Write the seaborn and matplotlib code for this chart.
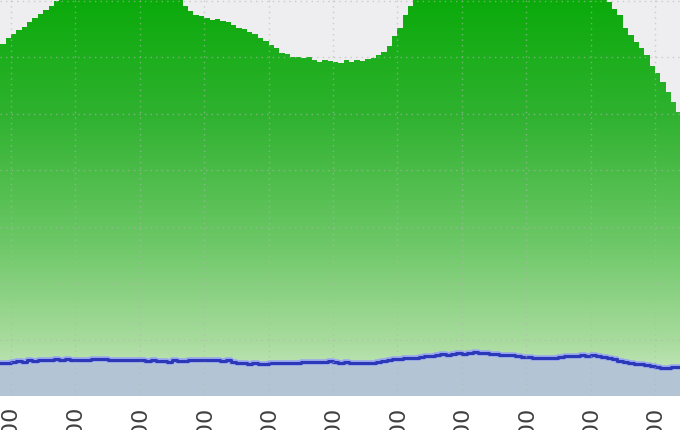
import numpy as np
import matplotlib
matplotlib.use("Agg")
import matplotlib.pyplot as plt
from matplotlib.colors import LinearSegmentedColormap
import seaborn as sns

# 5-minute samples starting 07:50
start_hour = 7 + 50 / 60
tick_hours = list(range(8, 19))
tick_labels = ["%02d:00" % h for h in tick_hours]

# total traffic (green area)
traffic_in = [
    62.3, 63.4, 64.1, 64.8, 65.3, 66.2, 66.9, 67.6, 68.3, 69.0,
    69.9, 70.8, 71.3, 71.6, 72.0, 72.3, 72.1, 72.6, 72.4, 72.8,
    72.5, 72.9, 72.6, 72.4, 72.7, 72.3, 72.1, 72.2, 71.8, 71.7,
    71.3, 71.0, 70.6, 70.2, 69.0, 68.1, 67.4, 67.3, 66.9, 66.5,
    66.7, 66.4, 66.2, 65.7, 65.1, 65.0, 64.4, 64.1, 63.4, 62.8,
    62.1, 61.6, 60.7, 60.5, 60.0, 60.0, 59.8, 60.0, 59.5, 59.1,
    59.5, 59.3, 59.1, 58.9, 59.5, 59.1, 59.5, 59.3, 59.6, 59.8,
    60.4, 60.9, 61.9, 63.7, 65.1, 67.4, 69.0, 70.3, 71.0, 71.8,
    72.4, 73.0, 73.3, 73.8, 74.0, 74.4, 74.3, 74.8, 74.6, 75.0,
    74.7, 75.1, 74.9, 75.2, 74.8, 75.0, 74.6, 74.7, 74.3, 74.4,
    74.0, 73.8, 73.5, 73.2, 72.8, 72.6, 72.1, 71.8, 71.5, 71.2,
    71.0, 70.6, 70.2, 69.7, 68.5, 67.4, 65.1, 63.9, 62.7, 61.6,
    60.4, 58.4, 57.2, 55.6, 53.8, 52.0, 50.3, 48.5,
]

# outgoing traffic (blue line)
traffic_out = [
    5.8, 5.9, 6.0, 6.2, 6.1, 6.3, 6.2, 6.4, 6.3, 6.4,
    6.5, 6.4, 6.5, 6.3, 6.4, 6.4, 6.3, 6.5, 6.6, 6.5,
    6.4, 6.3, 6.4, 6.4, 6.3, 6.4, 6.3, 6.2, 6.3, 6.2,
    6.2, 6.1, 6.3, 6.2, 6.2, 6.3, 6.4, 6.3, 6.4, 6.3,
    6.3, 6.2, 6.3, 6.1, 5.9, 5.8, 5.7, 5.8, 5.7, 5.7,
    5.8, 5.8, 5.9, 5.9, 5.8, 5.9, 6.0, 6.0, 6.1, 6.0,
    6.1, 6.2, 6.0, 5.9, 6.0, 5.9, 5.8, 5.9, 5.8, 5.9,
    6.0, 6.2, 6.3, 6.5, 6.6, 6.7, 6.8, 6.8, 6.9, 7.1,
    7.0, 7.2, 7.4, 7.3, 7.4, 7.6, 7.5, 7.6, 7.8, 7.7,
    7.6, 7.5, 7.4, 7.2, 7.3, 7.2, 7.1, 6.9, 6.9, 6.8,
    6.8, 6.7, 6.7, 6.8, 6.9, 7.0, 7.1, 7.0, 7.2, 7.1,
    7.3, 7.1, 6.9, 6.7, 6.5, 6.2, 6.0, 5.9, 5.7, 5.6,
    5.4, 5.3, 5.1, 5.0, 5.0, 5.1, 5.2, 5.3,
]

times = start_hour + np.arange(len(traffic_in)) * 5 / 60

sns.set_style("white")
fig = plt.figure(figsize=(6.8, 4.3), dpi=100)
ax = fig.add_axes([0, 34 / 430, 1, 396 / 430])
ax.set_facecolor("#eeeef0")

x_lo, x_hi = 8 - 11 / 64.4, 8 + 669 / 64.4
y_hi = 70.1

# green area with vertical gradient
poly = ax.fill_between(times, 0, traffic_in, step="post", facecolor="none",
                       edgecolor="none", zorder=2)
green = LinearSegmentedColormap.from_list(
    "g", [(0.0, "#d4edcc"), (0.12, "#aadc9f"), (0.35, "#6ec868"),
          (0.65, "#30b230"), (1.0, "#00a800")])
grad = np.linspace(0, 1, 256).reshape(-1, 1)
im = ax.imshow(grad, cmap=green, aspect="auto", origin="lower",
               extent=[x_lo, x_hi, 0, 76], zorder=2)
im.set_clip_path(poly.get_paths()[0], transform=ax.transData)
ax.set_xlim(x_lo, x_hi)
ax.set_ylim(0, y_hi)

# blue area and line
ax.fill_between(times, 0, traffic_out, step="post", color="#b3c5d4", zorder=3)
ax.step(times, traffic_out, where="post", color="#9aa6ee", lw=4.0, zorder=4)
sns.lineplot(x=times, y=traffic_out, drawstyle="steps-post", color="#2b38b8",
             lw=2.2, ax=ax, zorder=5)

# dotted grid on top
for h in tick_hours:
    ax.axvline(h, color="#b4b4b4", lw=1, ls=(0, (1, 3)), alpha=0.6, zorder=6)
for v in range(10, 71, 10):
    ax.axhline(v, color="#b4b4b4", lw=1, ls=(0, (1, 3)), alpha=0.6, zorder=6)

ax.set_xticks(tick_hours)
ax.set_xticklabels(tick_labels, rotation=90, fontsize=16, color="#404040")
ax.set_yticks([])
ax.tick_params(axis="x", length=0, pad=7)
for s in ax.spines.values():
    s.set_visible(False)
ax.set_xlabel("")
ax.set_ylabel("")

fig.savefig("out.png", dpi=100)
